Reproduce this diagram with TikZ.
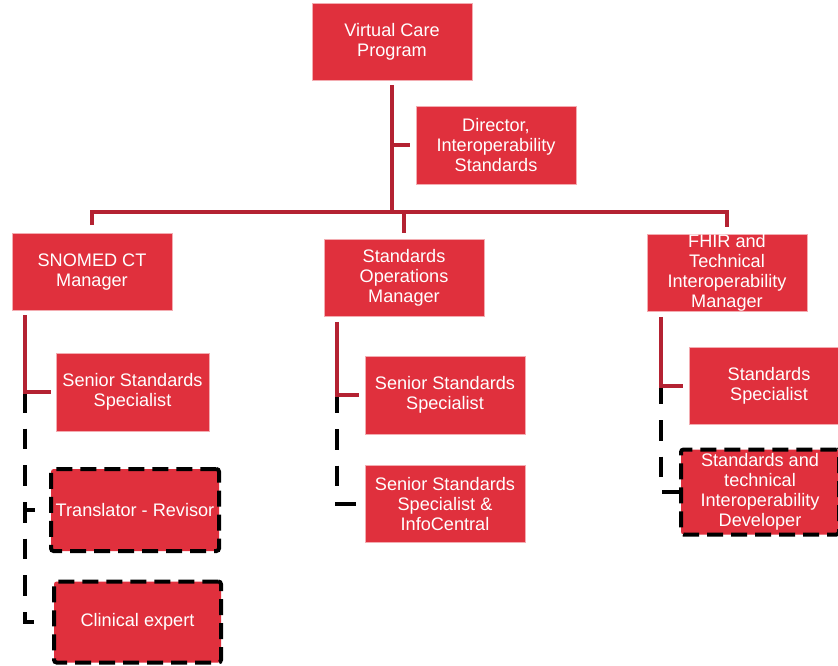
\documentclass[tikz,border=0pt]{standalone}
\usepackage{fontspec}
\setmainfont{Liberation Sans}
\usetikzlibrary{calc}
\definecolor{boxred}{HTML}{E0303D}
\definecolor{linered}{HTML}{B42232}
\tikzset{
  orgbox/.style={rectangle, fill=boxred, draw=boxred!40!white, line width=0.5pt, text=white, align=center,
    font=\fontsize{13.6}{15}\selectfont, inner sep=0pt, minimum width=120pt, minimum height=57.75pt},
  dashbox/.style={orgbox, draw=black, line width=3pt, dash pattern=on 12pt off 6pt, rounded corners=2pt},
  redline/.style={draw=linered, line width=3pt},
  blackdash/.style={draw=black, line width=3pt, dash pattern=on 15.5pt off 12pt}
}
\begin{document}
\begin{tikzpicture}[x=0.75pt, y=-0.75pt]
\useasboundingbox (0,0) rectangle (838,665);
\clip (0,0) rectangle (838,665);
% boxes
\node[orgbox] (vcp) at (392,42) {Virtual Care\\Program};
\node[orgbox, minimum height=58.5pt] (dir) at (496,145) {Director,\\Interoperability\\Standards};
\node[orgbox] (snomed) at (92,272) {SNOMED CT\\Manager};
\node[orgbox] (sops) at (404,277.5) {Standards\\Operations\\Manager};
\node[orgbox] (fhir) at (727,273) {FHIR and\\Technical\\Interoperability\\Manager};
\node[orgbox, minimum width=114.75pt, minimum height=58.5pt] (sss1) at (132.5,392) {Senior Standards\\Specialist};
\node[dashbox, minimum width=126pt, minimum height=61.5pt] (trans) at (135,510) {Translator - Revisor};
\node[dashbox, minimum width=125.25pt, minimum height=60.75pt] (clin) at (137.5,622) {Clinical expert};
\node[orgbox, minimum height=58.5pt] (sss2) at (445,395) {Senior Standards\\Specialist};
\node[orgbox] (ssic) at (445,504) {Senior Standards\\Specialist \&\\InfoCentral};
\node[orgbox] (ss3) at (769,386) {Standards\\Specialist};
\node[dashbox, minimum width=118.5pt, minimum height=63.75pt] (stid) at (760,492) {Standards and\\technical\\Interoperability\\Developer};
% top connectors
\coordinate (bus) at (392,212);
\draw[redline] ($(vcp.south)+(0,4.5)$) -- (bus);
\draw[redline] (vcp.south |- dir.west) -- ($(dir.west)+(-6,0)$);
\draw[redline] ($(snomed.north)+(0,-8)$) -- (snomed.north |- bus) -- (fhir.north |- bus) -- ($(fhir.north)+(0,-7)$);
\draw[redline] (sops.north |- bus) -- ($(sops.north)+(0,-6)$);
% left column
\path (snomed.south west) ++(13,4.5) coordinate (l0);
\draw[blackdash, dash phase=0pt] (l0 |- sss1.west) -- (l0 |- clin.west) -- ++(9,0);
\draw[black, line width=3pt] (l0 |- trans.west) -- ++(10,0);
\draw[redline] (l0) -- (l0 |- sss1.west) -- ($(sss1.west)+(-5,0)$);
% middle column
\path (sops.south west) ++(13,5.5) coordinate (m0);
\draw[blackdash, dash phase=2pt] (m0 |- sss2.west) -- (m0 |- ssic.west) -- ($(ssic.west)+(-6,0)$);
\draw[redline] (m0) -- (m0 |- sss2.west) -- ($(sss2.west)+(-6,0)$);
% right column
\path (fhir.south west) ++(14,5) coordinate (r0);
\draw[blackdash, dash phase=2pt] (r0 |- ss3.west) -- (r0 |- stid.west) -- (stid.west);
\draw[redline] (r0) -- (r0 |- ss3.west) -- ($(ss3.west)+(-6,0)$);
\end{tikzpicture}
\end{document}
